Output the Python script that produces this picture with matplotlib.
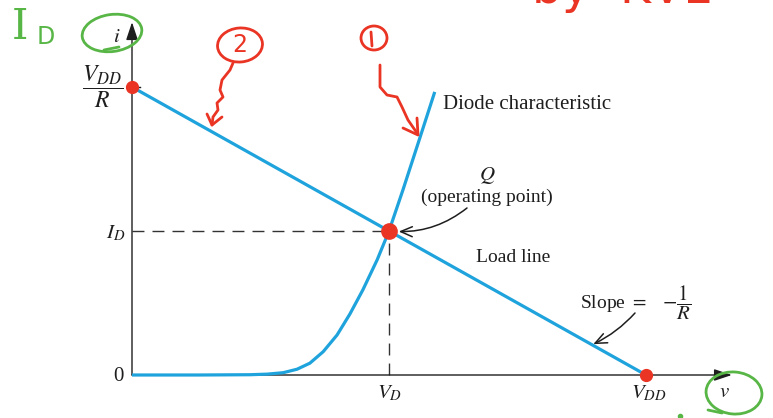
import matplotlib.pyplot as plt
from matplotlib.patches import Ellipse

plt.rcParams['mathtext.fontset'] = 'stix'
plt.rcParams['font.family'] = 'Liberation Serif'

# supply, resistor and the operating point (arbitrary units)
V_DD = 10.0
R = 1.0
V_D = 5.0
I_D = 5.0

# diode i-v characteristic
diode_v = [0.0, 1.30, 2.30, 2.63, 2.94, 3.21, 3.46, 3.72, 3.99, 4.24,
           4.49, 4.77, 5.00, 5.27, 5.60, 5.89]
diode_i = [0.0, 0.00, 0.01, 0.03, 0.08, 0.20, 0.41, 0.81, 1.39, 2.12,
           2.95, 4.00, 5.00, 6.42, 8.23, 9.83]

# load line  i = (V_DD - v) / R
load_v = [0.0, V_DD]
load_i = [V_DD / R, 0.0]

# marked points: intercepts and Q
dot_v = [0.0, V_D, V_DD]
dot_i = [V_DD / R, I_D, 0.0]

BLUE = '#1fa3dc'
RED = '#ea3424'
GREEN = '#58b646'
INK = '#1e1e1e'

W, H = 773, 418
fig = plt.figure(figsize=(W / 100, H / 100), dpi=100)

# data axes: origin sits at pixel (132, 375), 51.4 px per volt, 28.8 px per unit current
sx, sy = 51.4, 28.8
ox, oy = 132, 375
ax = fig.add_axes([0, 0, 1, 1])
ax.set_xlim(-ox / sx, (W - ox) / sx)
ax.set_ylim(-(H - oy) / sy, oy / sy)
ax.axis('off')

# overlay in pixel units (y down) for the pen scribbles
hx = fig.add_axes([0, 0, 1, 1], zorder=5)
hx.set_xlim(0, W)
hx.set_ylim(H, 0)
hx.axis('off')
hx.patch.set_alpha(0)


def fp(x, y):
    # figure pixels measured from the top-left corner
    return (x, H - y)


# axes with arrow heads
arrow_kw = dict(arrowstyle='-|>,head_length=0.9,head_width=0.3', color=INK,
                lw=1.0, mutation_scale=12, shrinkA=0, shrinkB=0)
ax.annotate('', xy=(0, 12.25), xytext=(0, 0), arrowprops=arrow_kw)
ax.annotate('', xy=(11.67, 0), xytext=(0, 0), arrowprops=arrow_kw)
ax.plot([0, 0.16], [V_DD / R, V_DD / R], color=INK, lw=1.0)

# projections of Q
dash = (0, (8.6, 5.8))
ax.plot([0, V_D], [I_D, I_D], color='#333333', lw=1.0, linestyle=dash)
ax.plot([V_D, V_D], [0, I_D], color='#333333', lw=1.0, linestyle=dash)

ax.plot(load_v, load_i, color=BLUE, lw=2.3, solid_capstyle='butt', zorder=3)
ax.plot(diode_v, diode_i, color=BLUE, lw=2.3, solid_joinstyle='round',
        solid_capstyle='butt', zorder=3)

ax.plot(dot_v[::2], dot_i[::2], 'o', color=RED, ms=8.5, zorder=4)
ax.plot(dot_v[1], dot_i[1], 'o', color=RED, ms=11, zorder=4)

# axis labels
lab = dict(textcoords='offset points', fontsize=15, color=INK)
ax.annotate('$i$', xy=(0, 12.25), xytext=(-11, -11), ha='center', va='center', **lab)
ax.annotate('$v$', xy=(11.67, 0), xytext=(-5, -12.5), ha='center', va='center', **lab)
ax.annotate('0', xy=(0, 0), xytext=(-6, -1), ha='right', va='center', **lab)
ax.annotate('$I_D$', xy=(0, I_D), xytext=(-5, -2), ha='right', va='center', **lab)
ax.annotate(r'$\dfrac{V_{DD}}{R}$', xy=(0, V_DD / R), xytext=(-6, 0),
            ha='right', va='center', textcoords='offset points', fontsize=17,
            color=INK)
ax.annotate('$V_D$', xy=(V_D, 0), xytext=(0, -13), ha='center', va='center', **lab)
ax.annotate('$V_{DD}$', xy=(V_DD, 0), xytext=(2, -13), ha='center', va='center', **lab)

ax.annotate('Diode characteristic', xy=(diode_v[-1], diode_i[-1]), xytext=(6, -9),
            ha='left', va='center', **lab)

# operating point callout
hx.text(487, 176, '$Q$', ha='center', va='center', fontsize=15, color=INK)
hx.text(487, 197, '(operating point)', ha='center', va='center', fontsize=14, color=INK)
ax.annotate('', xy=(V_D, I_D), xytext=fp(467, 208), textcoords='figure pixels',
            arrowprops=dict(arrowstyle='->,head_length=0.7,head_width=0.3', color=INK,
                            lw=1.1, mutation_scale=12, shrinkA=0, shrinkB=7,
                            connectionstyle='arc3,rad=-0.2'), zorder=5)

hx.text(513, 258, 'Load line', ha='center', va='center', fontsize=14, color=INK)

# slope callout
hx.text(580, 303, 'Slope $=$', ha='left', va='center', fontsize=14, color=INK)
hx.text(662, 303, r'$-\dfrac{1}{R}$', ha='left', va='center', fontsize=15, color=INK)
ax.annotate('', xy=(8.95, 1.05), xytext=fp(635, 313), textcoords='figure pixels',
            arrowprops=dict(arrowstyle='->,head_length=0.7,head_width=0.3', color=INK,
                            lw=1.1, mutation_scale=12, shrinkA=0, shrinkB=1,
                            connectionstyle='arc3,rad=-0.1'))

# pen notes: green
hx.text(12, 39, 'I', fontsize=30, color=GREEN, family='DejaVu Serif', va='baseline')
hx.text(37, 44, 'D', fontsize=17, color=GREEN, family='DejaVu Sans', va='baseline')
hx.add_patch(Ellipse((112, 33), 60, 37, angle=-8, fill=False, ec=GREEN, lw=2.0))
hx.plot([104, 119], [50, 47], color=GREEN, lw=2.0, solid_capstyle='round')
hx.add_patch(Ellipse((734, 393), 56, 42, angle=5, fill=False, ec=GREEN, lw=2.0))
hx.plot([708, 722], [410, 413], color=GREEN, lw=2.0, solid_capstyle='round')
hx.plot([680], [416], 'o', color=GREEN, ms=3)

# pen notes: red
red_kw = dict(color=RED, lw=2.0, solid_capstyle='round', solid_joinstyle='round')
hx.add_patch(Ellipse((240, 45), 45, 34, angle=-5, fill=False, ec=RED, lw=2.0))
hx.text(240, 45, '2', fontsize=17, color=RED, family='DejaVu Sans',
        ha='center', va='center')
hx.plot([233, 230, 222, 220, 223, 217, 218, 213, 212],
        [63, 70, 80, 90, 97, 103, 110, 117, 125], **red_kw)
hx.plot([207, 212, 222], [114, 125, 117], **red_kw)

hx.add_patch(Ellipse((374, 38), 26, 24, angle=0, fill=False, ec=RED, lw=2.0))
hx.plot([371, 372], [32, 46], **red_kw)
hx.plot([380, 380, 387, 397, 402, 408, 417],
        [65, 87, 95, 97, 107, 120, 133], **red_kw)
hx.plot([403, 418, 417], [128, 135, 118], **red_kw)

hx.text(532, 3, 'by  KVL', fontsize=34, color=RED, family='DejaVu Sans', va='baseline')

fig.savefig('out.png', dpi=100)
